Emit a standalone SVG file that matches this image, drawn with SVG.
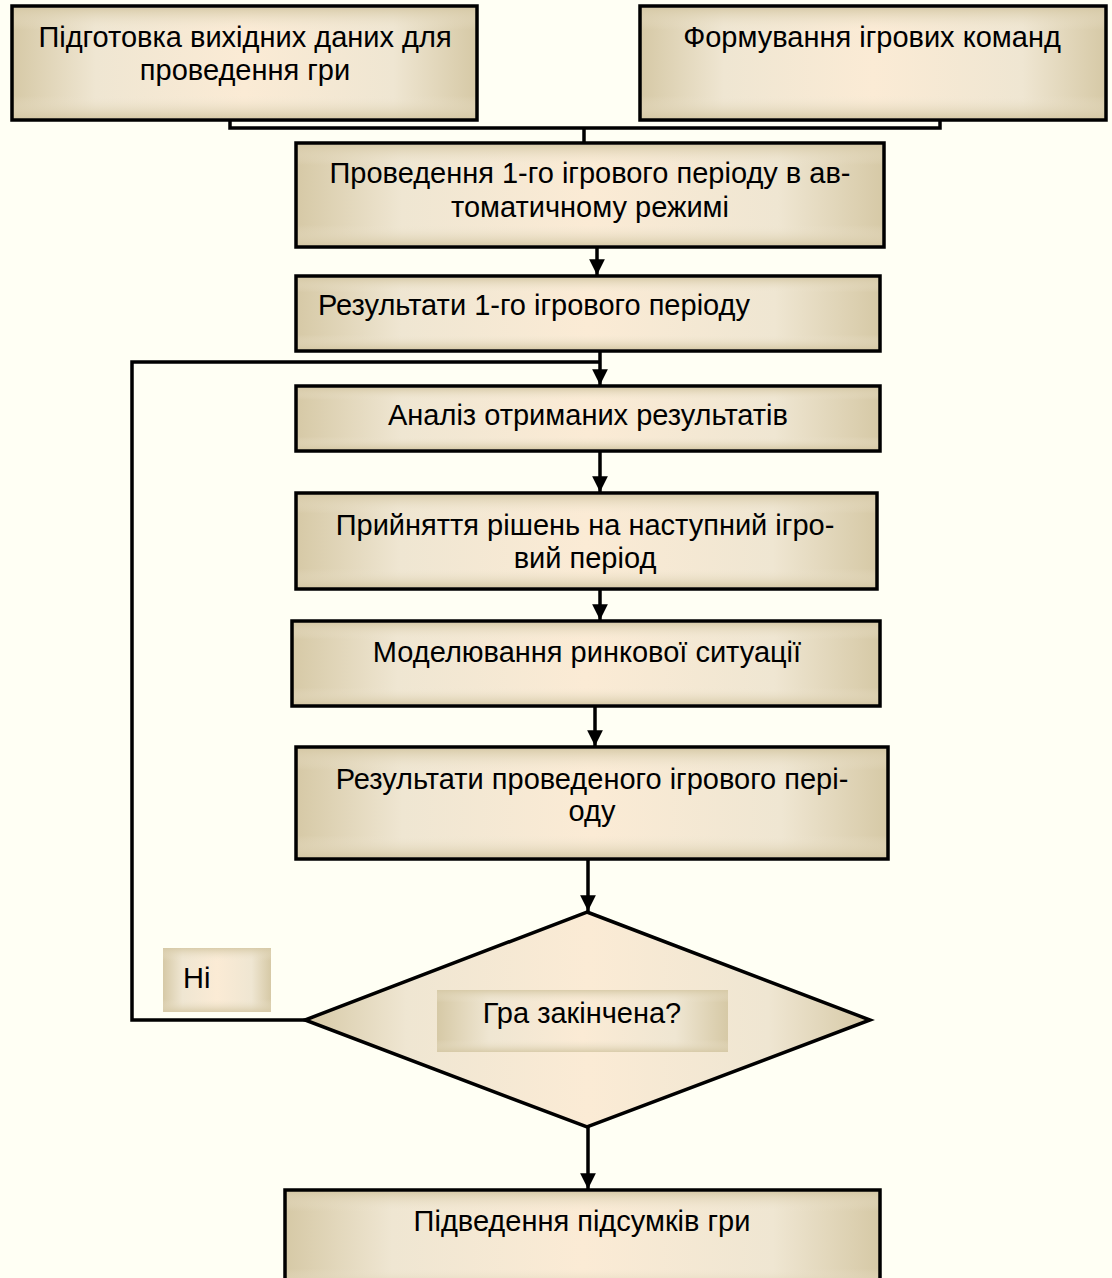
<svg xmlns="http://www.w3.org/2000/svg" width="1112" height="1278" viewBox="0 0 1112 1278">
<style>
.box{stroke:#000;stroke-width:3.5}
.txt{font-family:"Liberation Sans",Arial,sans-serif;font-size:29px;fill:#000}
.c{text-anchor:middle}
.ln{fill:none;stroke:#000;stroke-width:3.5}
</style>
<defs>
<linearGradient id="gh" x1="0" y1="0" x2="1" y2="0">
<stop offset="0" stop-color="#d6c9a6"/>
<stop offset="0.18" stop-color="#efe6d2"/>
<stop offset="0.5" stop-color="#fbebd5"/>
<stop offset="0.82" stop-color="#efe6d2"/>
<stop offset="1" stop-color="#d6c9a6"/>
</linearGradient>
<linearGradient id="gv" x1="0" y1="0" x2="0" y2="1">
<stop offset="0" stop-color="#d6c9a6" stop-opacity="0.9"/>
<stop offset="0.2" stop-color="#efe6d2" stop-opacity="0"/>
<stop offset="0.8" stop-color="#efe6d2" stop-opacity="0"/>
<stop offset="1" stop-color="#d6c9a6" stop-opacity="0.9"/>
</linearGradient>
<marker id="ar" viewBox="0 0 10 10" refX="10" refY="5" markerWidth="4.5" markerHeight="4.5" orient="auto" markerUnits="strokeWidth">
<path d="M0,0 L10,5 L0,10 z" fill="#000"/>
</marker>
</defs>
<rect width="1112" height="1278" fill="#fffff4"/>

<g id="connectors">
<path class="ln" d="M230,120 V128 H940 V120"/>
<path class="ln" d="M584,128 V142"/>
<path class="ln" d="M597,247 V275" marker-end="url(#ar)"/>
<path class="ln" d="M600,351 V385" marker-end="url(#ar)"/>
<path class="ln" d="M305,1020 H132 V362 H600"/>
<path class="ln" d="M600,451 V492" marker-end="url(#ar)"/>
<path class="ln" d="M600,589 V620" marker-end="url(#ar)"/>
<path class="ln" d="M595,706 V746" marker-end="url(#ar)"/>
<path class="ln" d="M588,859 V911" marker-end="url(#ar)"/>
<path class="ln" d="M588,1127 V1189" marker-end="url(#ar)"/>
</g>

<g id="n1">
<rect class="box" x="12" y="6" width="465" height="114" fill="url(#gh)"/>
<rect x="14" y="8" width="461" height="110" fill="url(#gv)"/>
<text class="txt c" x="245" y="47">Підготовка вихідних даних для</text>
<text class="txt c" x="245" y="80">проведення гри</text>
</g>

<g id="n2">
<rect class="box" x="640" y="6" width="466" height="114" fill="url(#gh)"/>
<rect x="642" y="8" width="462" height="110" fill="url(#gv)"/>
<text class="txt c" x="872" y="47">Формування ігрових команд</text>
</g>

<g id="n3">
<rect class="box" x="296" y="143" width="588" height="104" fill="url(#gh)"/>
<rect x="298" y="145" width="584" height="100" fill="url(#gv)"/>
<text class="txt c" x="590" y="183">Проведення 1-го ігрового періоду в ав-</text>
<text class="txt c" x="590" y="217">томатичному режимі</text>
</g>

<g id="n4">
<rect class="box" x="296" y="276" width="584" height="75" fill="url(#gh)"/>
<rect x="298" y="278" width="580" height="71" fill="url(#gv)"/>
<text class="txt" x="318" y="315">Результати 1-го ігрового періоду</text>
</g>

<g id="n5">
<rect class="box" x="296" y="386" width="584" height="65" fill="url(#gh)"/>
<rect x="298" y="388" width="580" height="61" fill="url(#gv)"/>
<text class="txt c" x="588" y="425">Аналіз отриманих результатів</text>
</g>

<g id="n6">
<rect class="box" x="296" y="493" width="581" height="96" fill="url(#gh)"/>
<rect x="298" y="495" width="577" height="92" fill="url(#gv)"/>
<text class="txt c" x="585" y="535">Прийняття рішень на наступний ігро-</text>
<text class="txt c" x="585" y="568">вий період</text>
</g>

<g id="n7">
<rect class="box" x="292" y="621" width="588" height="85" fill="url(#gh)"/>
<rect x="294" y="623" width="584" height="81" fill="url(#gv)"/>
<text class="txt c" x="587" y="662">Моделювання ринкової ситуації</text>
</g>

<g id="n8">
<rect class="box" x="296" y="747" width="592" height="112" fill="url(#gh)"/>
<rect x="298" y="749" width="588" height="108" fill="url(#gv)"/>
<text class="txt c" x="592" y="789">Результати проведеного ігрового пері-</text>
<text class="txt c" x="592" y="821">оду</text>
</g>

<g id="n9">
<path class="box" d="M587,912 L870,1020 L587,1127 L305,1020 Z" fill="url(#gh)"/>
<rect x="437" y="990" width="291" height="62" fill="url(#gh)"/>
<rect x="437" y="990" width="291" height="62" fill="url(#gv)"/>
<text class="txt c" x="582" y="1023">Гра закінчена?</text>
</g>

<g id="n10">
<rect x="163" y="948" width="108" height="64" fill="url(#gh)"/>
<rect x="163" y="948" width="108" height="64" fill="url(#gv)"/>
<text class="txt" x="183" y="988">Ні</text>
</g>

<g id="n11">
<rect class="box" x="285" y="1190" width="595" height="100" fill="url(#gh)"/>
<rect x="287" y="1192" width="591" height="96" fill="url(#gv)"/>
<text class="txt c" x="582" y="1231">Підведення підсумків гри</text>
</g>
</svg>
